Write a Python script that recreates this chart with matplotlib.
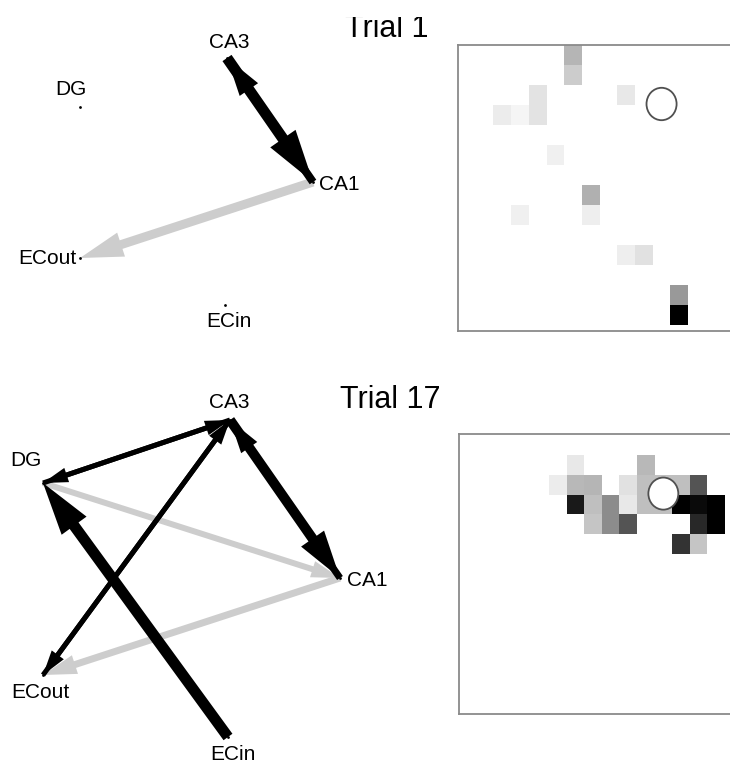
import numpy as np
import matplotlib
matplotlib.use("Agg")
import matplotlib.pyplot as plt
from matplotlib.patches import Ellipse
from matplotlib.transforms import Bbox

plt.rcParams['font.family'] = ['Liberation Sans', 'DejaVu Sans']

# ---------------- data ----------------
nodes = ["DG", "CA3", "CA1", "ECout", "ECin"]
# node layout (pixel-like layout units) for each trial
t1_node_x = [80, 227, 313, 80, 225]
t1_node_y = [107, 58, 182, 258, 305]
t17_node_x = [43, 230, 340, 43, 228]
t17_node_y = [483, 420, 578, 675, 737]

# edges: source, target, strength (shaft width), type (0 black, 1 grey)
t1_src = ["CA1", "CA3", "CA1"]
t1_dst = ["ECout", "CA1", "CA3"]
t1_w = [9, 11, 8]
t1_type = [1, 0, 0]

t17_src = ["DG", "CA1", "CA3", "CA1", "CA3", "DG", "CA3", "ECout", "ECin"]
t17_dst = ["CA1", "ECout", "CA1", "CA3", "DG", "CA3", "ECout", "CA3", "DG"]
t17_w = [6, 7, 10, 7, 5, 5, 5, 5, 11]
t17_type = [1, 1, 0, 0, 0, 0, 0, 0, 0]

# place-field heatmaps (row, col, intensity 0..1)
t1_rows = [0, 1, 2, 3, 3, 3, 2, 5, 7, 8, 8, 10, 10, 12, 13]
t1_cols = [6, 6, 4, 4, 2, 3, 9, 5, 7, 7, 3, 9, 10, 12, 12]
t1_vals = [0.29, 0.20, 0.11, 0.11, 0.075, 0.04, 0.09, 0.06, 0.31, 0.07, 0.06, 0.07, 0.12, 0.40, 1.0]

t17_rows = [1, 1, 2, 2, 2, 2, 2, 2, 2, 2,
            3, 3, 3, 3, 3, 3, 3, 3, 3,
            4, 4, 4, 4, 4, 5, 5]
t17_cols = [6, 10, 5, 6, 7, 9, 10, 11, 12, 13,
            6, 7, 8, 9, 10, 11, 12, 13, 14,
            7, 8, 9, 13, 14, 12, 13]
t17_vals = [0.09, 0.28, 0.075, 0.28, 0.29, 0.12, 0.25, 0.25, 0.25, 0.67,
            0.90, 0.25, 0.45, 0.09, 0.25, 0.25, 1.0, 0.96, 1.0,
            0.23, 0.45, 0.67, 0.84, 1.0, 0.80, 0.23]

goal_x, goal_y = 11.5, 2.95
n_rows, n_cols = 15, 17
titles = ["Trial 1", "Trial 17"]

# ---------------- figure ----------------
W, H = 730, 765
fig = plt.figure(figsize=(W / 100, H / 100), dpi=100)
ax = fig.add_axes([0, 0, 1, 1])
ax.set_xlim(0, W)
ax.set_ylim(H, 0)
ax.axis("off")

colors = ["#000000", "#cdcdcd"]

# label offsets (layout only)
t1_lab = {"DG": (-9, -18, "center"), "CA3": (2, -16, "center"), "CA1": (6, 2, "left"),
          "ECout": (-4, 0, "right"), "ECin": (4, 16, "center")}
t17_lab = {"DG": (-17, -23, "center"), "CA3": (-1, -18, "center"), "CA1": (7, 3, "left"),
           "ECout": (-3, 17, "center"), "ECin": (5, 18, "center")}


def draw_net(nx, ny, src, dst, w, typ, lab):
    pos = {n: (x, y) for n, x, y in zip(nodes, nx, ny)}
    order = sorted(range(len(src)), key=lambda i: -typ[i])
    for i in order:
        x0, y0 = pos[src[i]]
        x1, y1 = pos[dst[i]]
        ww = w[i]
        hw = max(2.8 * ww, 15)
        hl = max(4.8 * ww, 25)
        ax.arrow(x0, y0, x1 - x0, y1 - y0, width=ww, head_width=hw, head_length=hl,
                 length_includes_head=True, color=colors[typ[i]], linewidth=0,
                 zorder=2 if typ[i] == 1 else 3)
    ax.scatter(nx, ny, s=4, c="k", zorder=4, linewidths=0)
    for n in nodes:
        dx, dy, ha = lab[n]
        x, y = pos[n]
        ax.text(x + dx, y + dy, n, ha=ha, va="center", fontsize=15, zorder=5)


draw_net(t1_node_x, t1_node_y, t1_src, t1_dst, t1_w, t1_type, t1_lab)
draw_net(t17_node_x, t17_node_y, t17_src, t17_dst, t17_w, t17_type, t17_lab)

t1 = ax.text(387, 37, titles[0], ha="center", va="baseline", fontsize=22)
t1.set_clip_box(Bbox.from_extents(0, 0, W, H - 17))
t1.set_clip_on(True)
ax.text(390, 408, titles[1], ha="center", va="baseline", fontsize=22)


def heat(box, xl, yl, rows, cols, vals):
    left, top, bottom = box
    right = left + 290
    hax = fig.add_axes([left / W, (H - bottom) / H, (right - left) / W, (bottom - top) / H])
    grid = np.full((n_rows, n_cols), np.nan)
    for r, c, v in zip(rows, cols, vals):
        grid[r, c] = v
    hax.pcolormesh(np.arange(n_cols + 1), np.arange(n_rows + 1), np.ma.masked_invalid(grid),
                   cmap="gray_r", vmin=0, vmax=1, shading="flat")
    hax.add_patch(Ellipse((goal_x, goal_y), 1.7, 1.62, facecolor="white",
                          edgecolor="#505050", linewidth=1.3, zorder=3))
    hax.set_xlim(*xl)
    hax.set_ylim(*yl)
    hax.set_xticks([])
    hax.set_yticks([])
    for s in hax.spines.values():
        s.set_color("#8a8a8a")
        s.set_linewidth(1.3)


heat((458, 45, 331), (0, 290 / 17.7), (286 / 20, 0), t1_rows, t1_cols, t1_vals)
heat((459, 434, 714), (-0.11, -0.11 + 290 / 17.6), (-0.06 + 280 / 19.8, -0.06),
     t17_rows, t17_cols, t17_vals)

fig.savefig("out.png", dpi=100)
